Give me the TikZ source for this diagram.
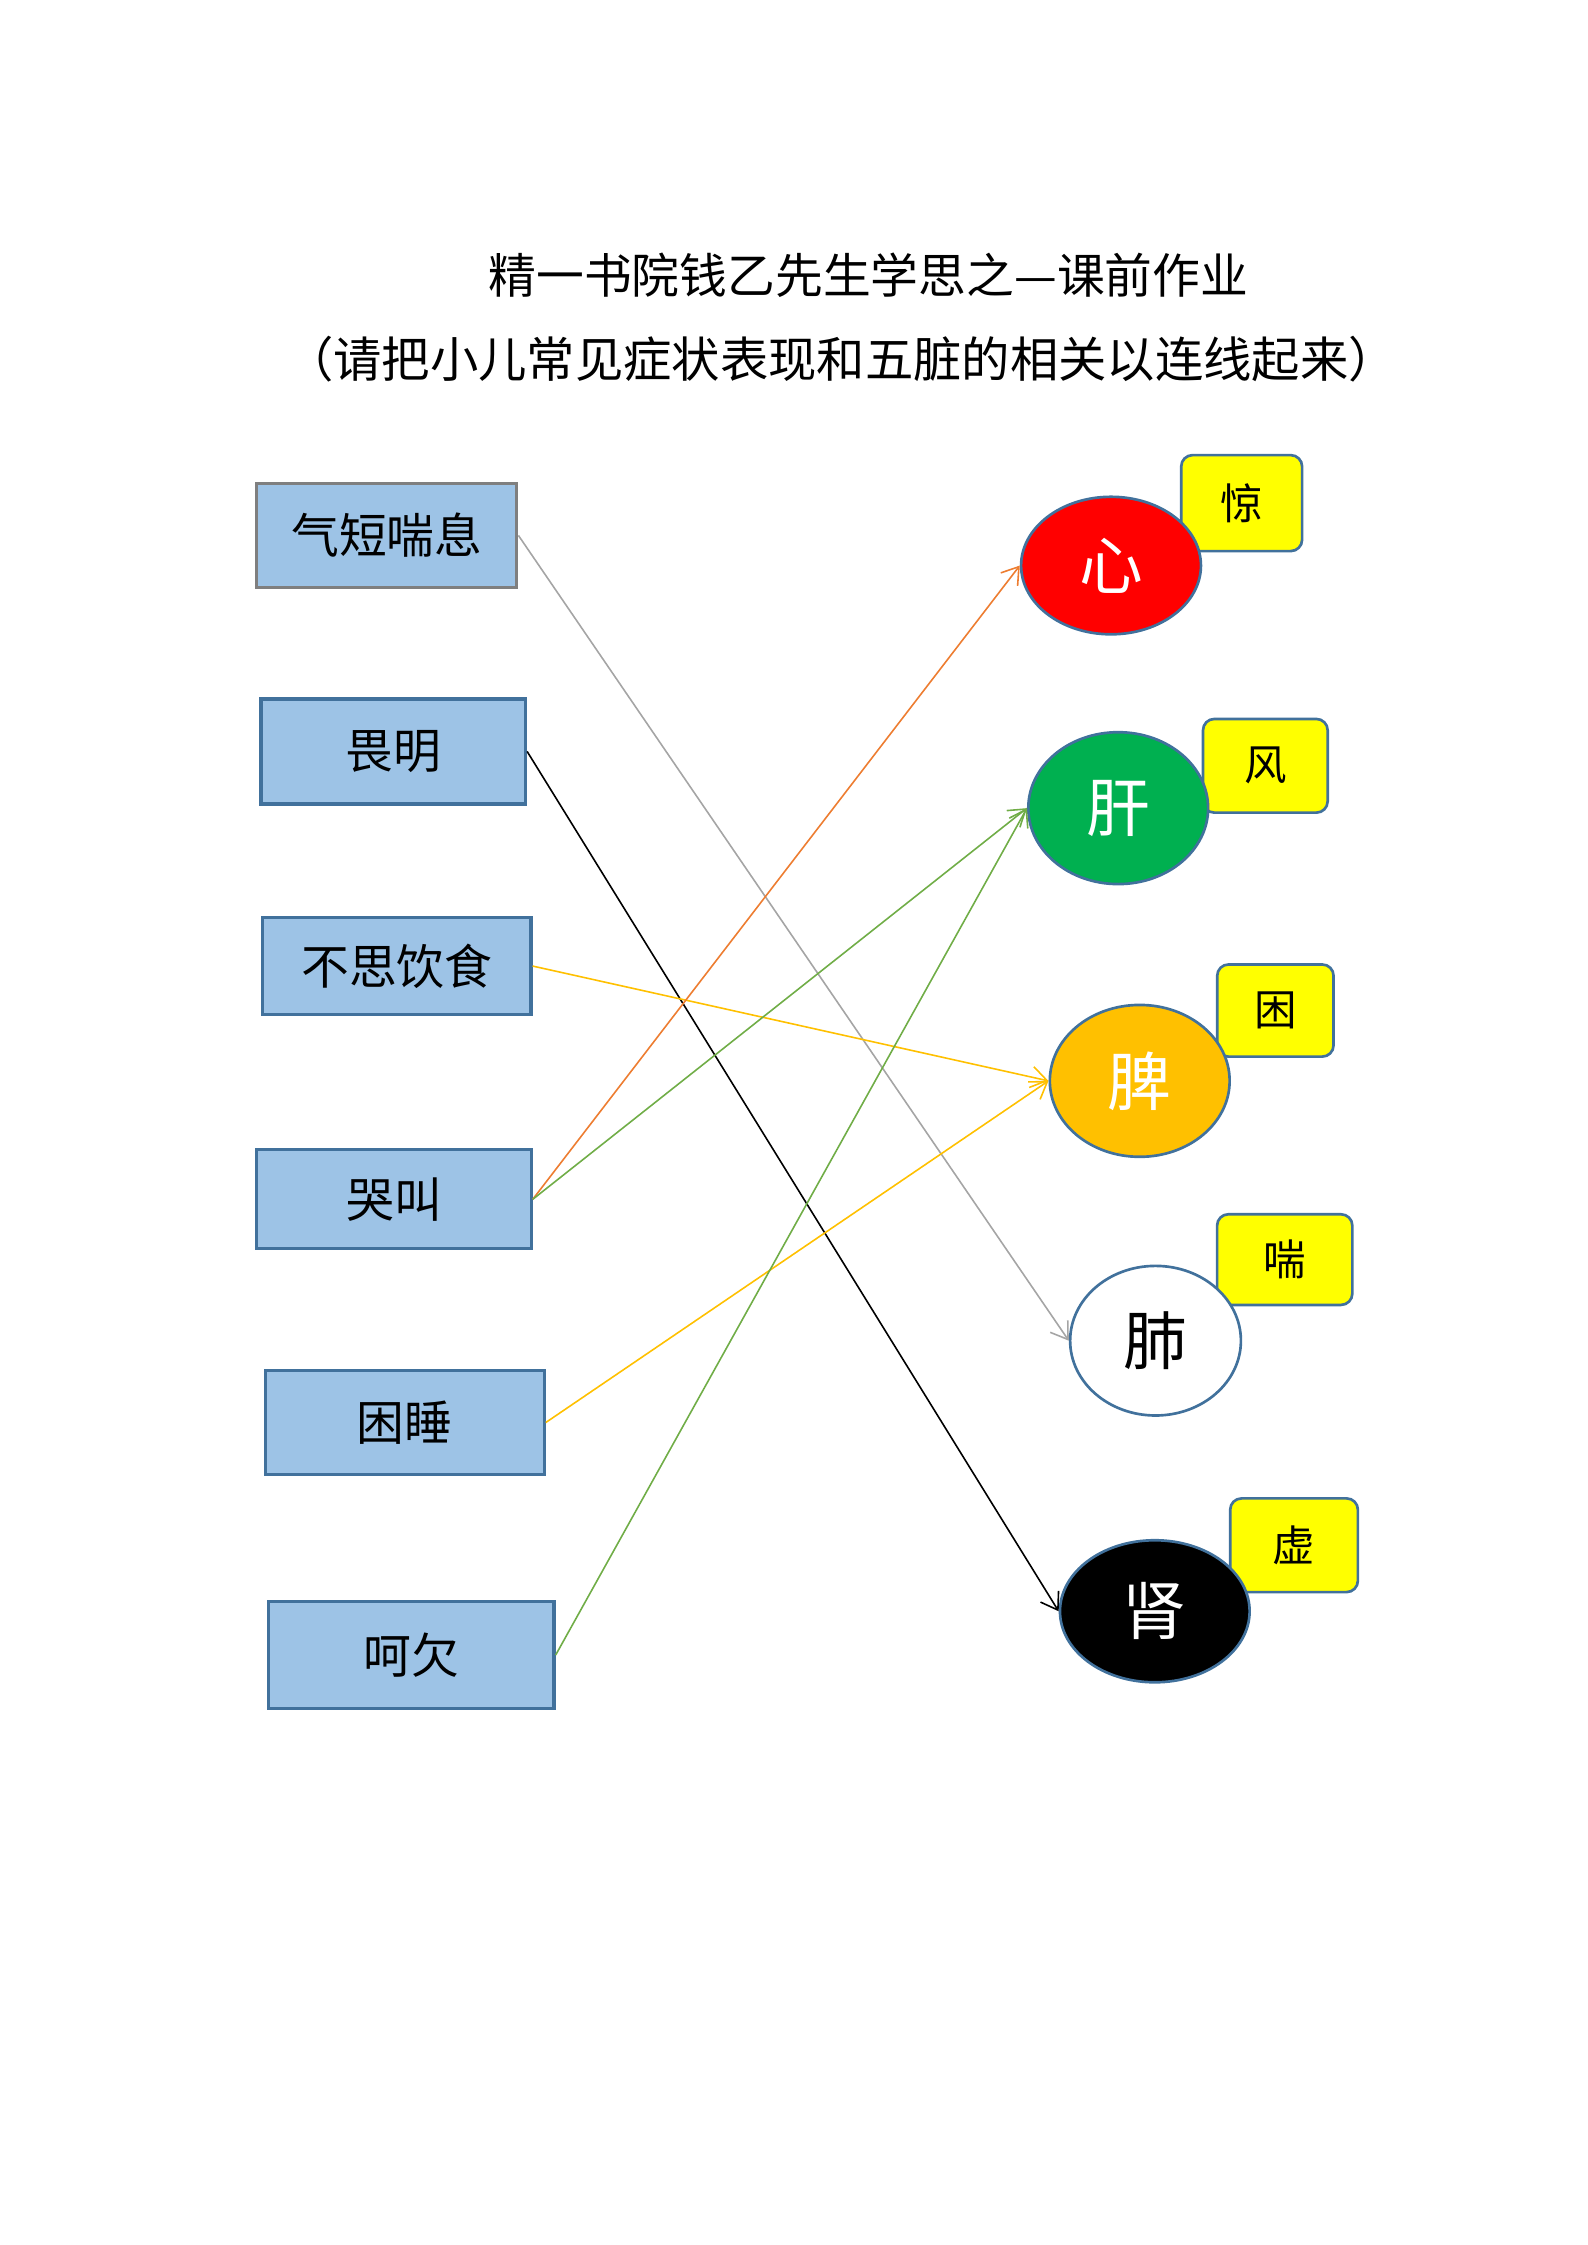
\documentclass[tikz,border=0pt]{standalone}
\usepackage{fontspec}
\newfontfamily\cjk{Noto Sans CJK SC}
\usetikzlibrary{shapes.geometric,arrows.meta}
\definecolor{boxblue}{RGB}{157,195,230}
\definecolor{edgeblue}{RGB}{65,113,156}
\definecolor{edgegray}{RGB}{127,127,127}
\definecolor{zangred}{RGB}{255,0,0}
\definecolor{zanggreen}{RGB}{0,176,80}
\definecolor{zangorange}{RGB}{255,192,0}
\definecolor{tagyellow}{RGB}{255,255,0}
\definecolor{lineorange}{RGB}{237,125,49}
\definecolor{linegreen}{RGB}{112,173,71}
\definecolor{linegray}{RGB}{165,165,165}
\begin{document}
\begin{tikzpicture}
            [x=0.019cm, y=-0.019cm,
            symptom/.style={draw=edgeblue, line width=1.2pt, fill=boxblue, inner sep=0pt, font=\cjk\fontsize{18}{20}\selectfont},
            zang/.style={ellipse, draw=edgeblue, line width=1pt, inner sep=0pt, text=white, font=\cjk\fontsize{24}{26}\selectfont},
            tag/.style={draw=edgeblue, line width=1pt, fill=tagyellow, rounded corners=0.15cm, inner sep=0pt, font=\cjk\fontsize{16}{18}\selectfont},
            link/.style={line width=0.6pt, -{Straight Barb[length=6pt,width=8pt]}}]
            \useasboundingbox (0,0) rectangle (1106,1564);
            %\draw [help lines] (0,0) grid (1106,1564);
            \node (title) at (605,192) {\cjk\fontsize{18}{20}\selectfont 精一书院钱乙先生学思之—课前作业};
            \node (note) at (586,250) {\cjk\fontsize{18.2}{20}\selectfont （请把小儿常见症状表现和五脏的相关以连线起来）};
            % symptoms
            \node [symptom, draw=edgegray, minimum width=3.44cm, minimum height=1.37cm] (qiduan) at (269.5,373) {气短喘息};
            \node [symptom, minimum width=3.50cm, minimum height=1.39cm] (weiming) at (274,523.5) {畏明};
            \node [symptom, minimum width=3.55cm, minimum height=1.29cm] (busi) at (276.5,673) {不思饮食};
            \node [symptom, minimum width=3.63cm, minimum height=1.31cm] (kujiao) at (274.5,835.5) {哭叫};
            \node [symptom, minimum width=3.69cm, minimum height=1.37cm] (kunshui) at (282,991) {困睡};
            \node [symptom, minimum width=3.78cm, minimum height=1.41cm] (heqian) at (286.5,1153) {呵欠};
            % tags
            \node [tag, minimum width=1.60cm, minimum height=1.27cm] (jing) at (865,350.5) {惊};
            \node [tag, minimum width=1.65cm, minimum height=1.24cm] (feng) at (881.5,533.5) {风};
            \node [tag, minimum width=1.54cm, minimum height=1.22cm] (kun) at (888.5,704) {困};
            \node [tag, minimum width=1.79cm, minimum height=1.20cm] (chuan) at (895,877.5) {喘};
            \node [tag, minimum width=1.69cm, minimum height=1.24cm] (xu) at (901.5,1076.5) {虚};
            % organs
            \node [zang, fill=zangred, minimum width=2.38cm, minimum height=1.82cm] (xin) at (774,394) {心};
            \node [zang, fill=zanggreen, minimum width=2.38cm, minimum height=2.01cm] (gan) at (779,563) {肝};
            \node [zang, fill=zangorange, minimum width=2.38cm, minimum height=2.01cm] (pi) at (794,753) {脾};
            \node [zang, fill=white, text=black, minimum width=2.26cm, minimum height=1.98cm] (fei) at (805,934) {肺};
            \node [zang, fill=black, minimum width=2.51cm, minimum height=1.88cm] (shen) at (804.5,1122.5) {肾};
            % links
            \draw [link, linegray] (qiduan.east) -- (fei.west);
            \draw [link, black] (weiming.east) -- (shen.west);
            \draw [link, zangorange] (busi.east) -- (pi.west);
            \draw [link, lineorange] (kujiao.east) -- (xin.west);
            \draw [link, linegreen] (kujiao.east) -- (gan.west);
            \draw [link, zangorange] (kunshui.east) -- (pi.west);
            \draw [link, linegreen] (heqian.east) -- (gan.west);
\end{tikzpicture}
\end{document}
